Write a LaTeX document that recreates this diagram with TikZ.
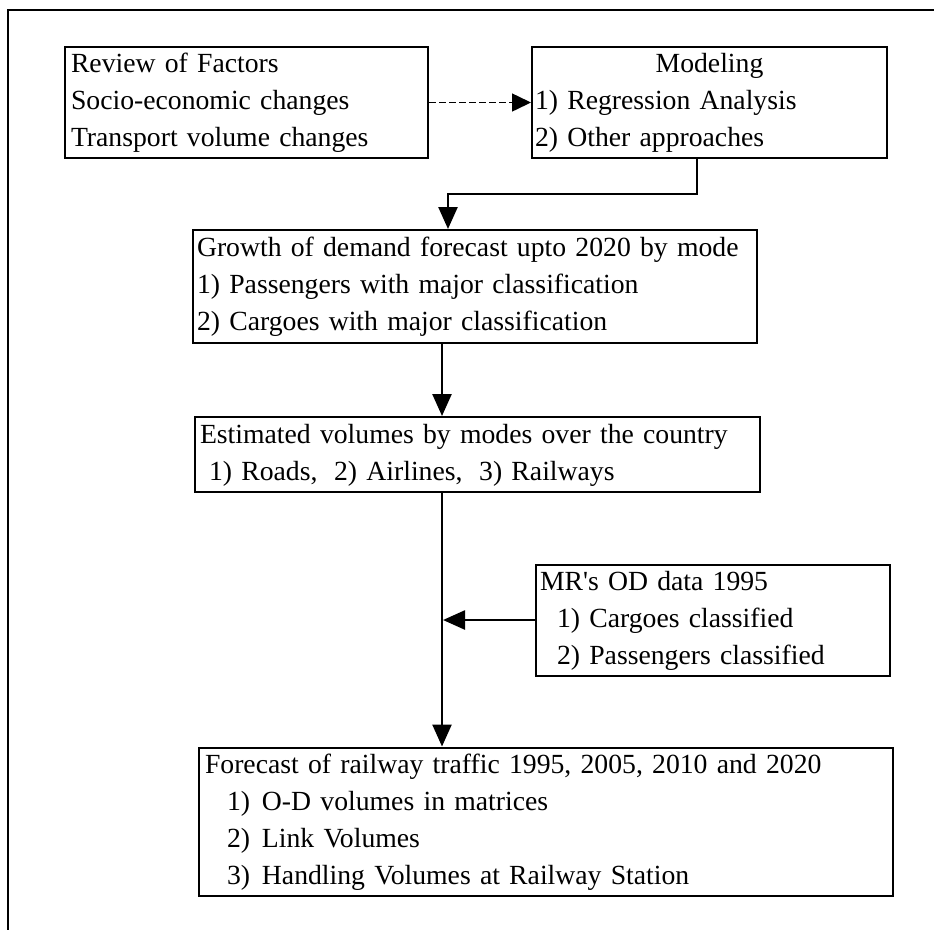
\documentclass[tikz,border=0pt]{standalone}
\usepackage{fontspec}
\setmainfont{Liberation Serif}
\usetikzlibrary{arrows.meta}
\begin{document}
\begin{tikzpicture}[x=1pt,y=-1pt,
  box/.style={draw,line width=2pt,inner xsep=0pt,inner ysep=0pt,align=left,
    font=\fontsize{27.7}{37}\selectfont},
  conn/.style={line width=2.5pt,-{Triangle[length=22pt,width=19pt]}},
  dconn/.style={line width=1.5pt,dash pattern=on 7pt off 3pt,-{Triangle[length=19pt,width=18pt]}},
  frameline/.style={line width=2pt},
]
\useasboundingbox (0,0) rectangle (934,930);
% outer frame (top and left only)
\draw[frameline] (934,10) -- (8,10) -- (8,930);

\node[box,minimum width=363pt,minimum height=111pt,text width=351pt] (rev) at (246.5,102.5)
 {\strut Review of Factors\\\strut Socio-economic changes\\\strut Transport volume changes};

\node[box,minimum width=355pt,minimum height=111pt,text width=349pt] (mod) at (709.5,102.5)
 {\strut\makebox[\linewidth]{Modeling}\\\strut 1) Regression Analysis\\\strut 2) Other approaches};

\node[box,minimum width=564pt,minimum height=113pt,text width=556pt] (gro) at (475,286.5)
 {\strut Growth of demand forecast upto 2020 by mode\\\strut 1) Passengers with major classification\\\strut 2) Cargoes with major classification};

\node[box,minimum width=565pt,minimum height=75pt,text width=555pt] (est) at (477.5,454.5)
 {\strut Estimated volumes by modes over the country\\\strut\hspace*{9pt}1) Roads,\hspace{0.6em}2) Airlines,\hspace{0.6em}3) Railways};

\node[box,minimum width=354pt,minimum height=110pt,text width=346pt] (mr) at (713,620)
 {\strut MR\textquotesingle s OD data 1995\\\strut\hspace*{17pt}1) Cargoes classified\\\strut\hspace*{17pt}2) Passengers classified};

\node[box,minimum width=694pt,minimum height=147pt,text width=682pt] (fc) at (546,821.5)
 {\strut Forecast of railway traffic 1995, 2005, 2010 and 2020\\
  \strut\hspace*{22pt}\makebox[35pt][l]{1)}O-D volumes in matrices\\
  \strut\hspace*{22pt}\makebox[35pt][l]{2)}Link Volumes\\
  \strut\hspace*{22pt}\makebox[35pt][l]{3)}Handling Volumes at Railway Station};

% connectors
\draw[dconn] (rev.east) -- (mod.west);
\draw[conn] ([xshift=-12.5pt]mod.south) -- ++(0pt,-35pt) -| ([xshift=-27pt]gro.north);
\draw[conn] ([xshift=-33pt]gro.south) -- ([xshift=-33pt]gro.south |- est.north);
\draw[conn] ([xshift=-35.5pt]est.south) -- ([xshift=-35.5pt]est.south |- fc.north);
\coordinate (j) at ([xshift=-35.5pt]est.south |- mr.west);
\draw[conn,shorten >=1pt] (mr.west) -- (j);
\end{tikzpicture}
\end{document}
